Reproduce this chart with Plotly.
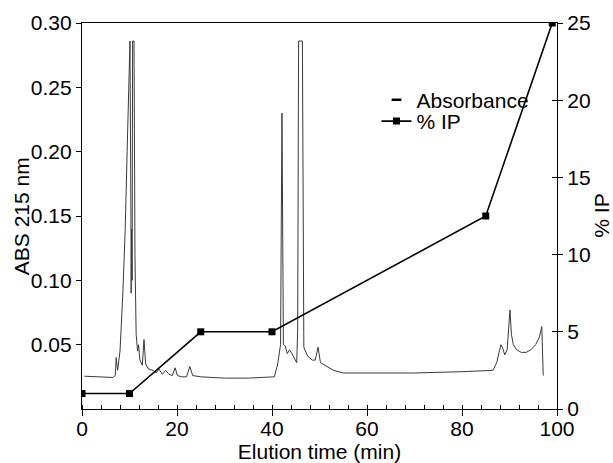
import plotly.graph_objects as go

# Absorbance trace (min, AU)
abs_time = [0.5, 3, 6.5, 7.0, 7.2, 7.5, 8.0, 8.6, 9.1, 9.5, 9.9, 10.1, 10.3, 10.35, 10.45,
            10.55, 10.65, 10.95, 11.15, 11.4, 11.7, 11.9, 12.2, 12.7, 13.05, 13.4, 14.0,
            15.0, 15.6, 16.2, 16.9, 17.6, 18.3, 19.0, 19.6, 20.1, 21.0, 22.0, 22.7, 23.3,
            25.0, 30, 35, 40.5, 41.2, 41.8, 42.1, 42.4, 42.8, 43.2, 43.7, 44.2, 44.7, 45.2,
            45.4, 45.6, 46.4, 46.7, 47.5, 48.5, 49.1, 49.7, 50.2, 51.5, 53, 55, 60, 70, 80,
            86.5, 87.3, 87.8, 88.2, 88.6, 89.0, 89.5, 89.8, 90.1, 90.4, 90.8, 91.5, 92.5,
            93.5, 94.5, 95.5, 96.3, 96.8, 97.1]
abs_val = [0.0255, 0.025, 0.0245, 0.026, 0.040, 0.030, 0.045, 0.090, 0.140, 0.200, 0.270,
           0.286, 0.150, 0.090, 0.140, 0.100, 0.286, 0.286, 0.120, 0.058, 0.045, 0.050,
           0.038, 0.034, 0.054, 0.035, 0.031, 0.030, 0.028, 0.031, 0.027, 0.030, 0.027,
           0.026, 0.032, 0.026, 0.025, 0.025, 0.033, 0.026, 0.025, 0.024, 0.024, 0.025,
           0.035, 0.050, 0.230, 0.050, 0.049, 0.043, 0.046, 0.043, 0.040, 0.036, 0.060,
           0.286, 0.286, 0.048, 0.041, 0.038, 0.038, 0.048, 0.036, 0.033, 0.030, 0.028,
           0.028, 0.028, 0.029, 0.030, 0.036, 0.045, 0.050, 0.047, 0.042, 0.046, 0.060,
           0.077, 0.058, 0.050, 0.046, 0.044, 0.044, 0.046, 0.050, 0.056, 0.064, 0.026]

# % IP gradient
ip_time = [0, 10, 25, 40, 85, 99]
ip_val = [1, 1, 5, 5, 12.5, 25]

x_ticks = [0, 20, 40, 60, 80, 100]
y_left_ticks = [0.05, 0.10, 0.15, 0.20, 0.25, 0.30]
y_right_ticks = [0, 5, 10, 15, 20, 25]

FONT = "Liberation Sans, Arial, sans-serif"

fig = go.Figure()
fig.add_trace(go.Scatter(x=abs_time, y=abs_val, mode="lines", name="Absorbance",
                         line=dict(color="#3a3a3a", width=1), yaxis="y",
                         showlegend=False))
# legend entry for absorbance (short dash symbol as in the original)
fig.add_trace(go.Scatter(x=[None], y=[None], mode="markers", name="Absorbance",
                         marker=dict(symbol="line-ew", size=7,
                                     line=dict(color="black", width=2.5)),
                         yaxis="y", legend="legend"))
fig.add_trace(go.Scatter(x=ip_time, y=ip_val, mode="lines+markers", name="% IP",
                         line=dict(color="black", width=1.6),
                         marker=dict(symbol="square", size=7, color="black"),
                         yaxis="y2", legend="legend2"))

axis_common = dict(showgrid=False, zeroline=False, showline=True, linecolor="black",
                   linewidth=1.2, tickcolor="black", automargin=False,
                   tickfont=dict(size=21, color="black"))

leg_common = dict(x=0.62, xanchor="left", yanchor="middle", bgcolor="rgba(0,0,0,0)",
                  font=dict(size=21), itemwidth=30)

fig.update_layout(
    width=613, height=463,
    margin=dict(l=82, r=56, t=23, b=54),
    paper_bgcolor="white", plot_bgcolor="white",
    font=dict(family=FONT, color="black"),
    showlegend=True,
    legend=dict(y=0.80, **leg_common),
    legend2=dict(y=0.745, **leg_common),
    xaxis=dict(range=[0, 100], tickvals=x_ticks, ticks="outside", ticklen=6,
               mirror=True, ticklabelstandoff=-5,
               minor=dict(dtick=4, ticks="inside", ticklen=4, tickcolor="black"),
               title=dict(text="Elution time (min)", font=dict(size=21), standoff=2),
               **axis_common),
    yaxis=dict(range=[0, 0.30], tickvals=y_left_ticks, tickformat=".2f",
               ticks="outside", ticklen=5,
               **axis_common),
    yaxis2=dict(range=[0, 25], tickvals=y_right_ticks, overlaying="y", side="right",
                ticks="outside", ticklen=5,
                **axis_common),
    yaxis3=dict(range=[0, 25], tickvals=y_right_ticks, overlaying="y", side="right",
                ticks="inside", ticklen=5, showticklabels=False, showgrid=False,
                zeroline=False, showline=False, tickcolor="black", automargin=False),
    annotations=[
        dict(text="% IP", xref="paper", yref="paper", x=1.092, y=0.5,
             xanchor="center", yanchor="middle", textangle=-90,
             showarrow=False, font=dict(size=21, color="black")),
        dict(text="ABS 215 nm", xref="paper", yref="paper", x=-0.128, y=0.5,
             xanchor="center", yanchor="middle", textangle=-90,
             showarrow=False, font=dict(size=21, color="black")),
    ],
)
fig.add_trace(go.Scatter(x=[0], y=[-10], yaxis="y3", mode="markers", showlegend=False,
                         hoverinfo="skip", marker=dict(opacity=0)))

fig.write_html("out.html", config={"displayModeBar": False},
               post_script="document.body.style.margin='0';"
                           "document.body.style.overflow='hidden';")
